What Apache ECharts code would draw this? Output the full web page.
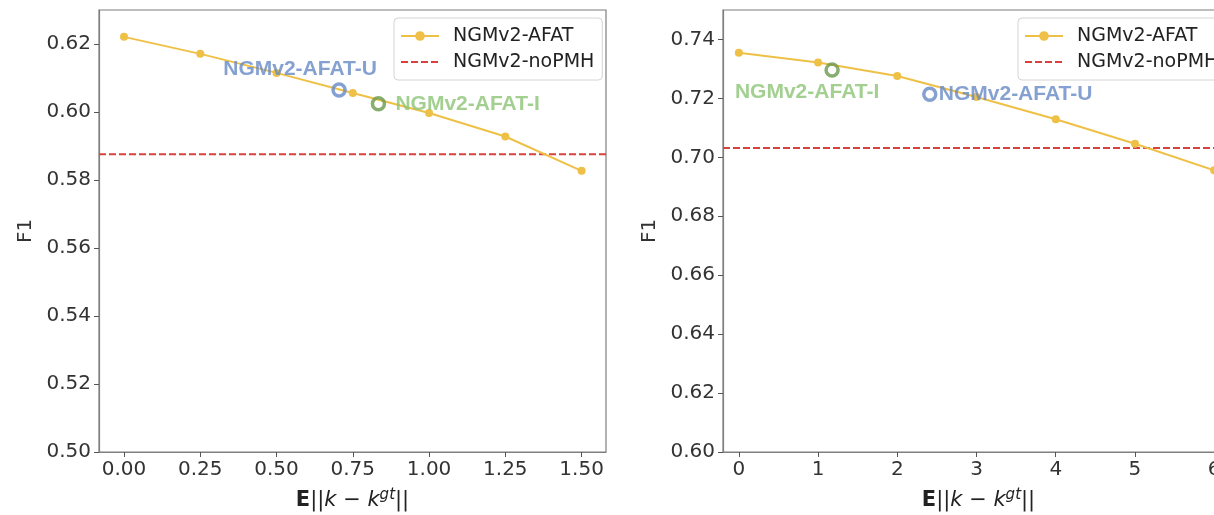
<!DOCTYPE html>
<html>
<head>
<meta charset="utf-8">
<script src="https://cdn.jsdelivr.net/npm/echarts@6/dist/echarts.min.js"></script>
<style>
  html, body { margin: 0; padding: 0; background: #fff; }
  #main { width: 1214px; height: 515px; }
</style>
</head>
<body>
<div id="main"></div>
<script>
// left panel
const leftX = [0, 0.25, 0.5, 0.75, 1.0, 1.25, 1.5];
const leftF1 = [0.6221, 0.6171, 0.6115, 0.6056, 0.5997, 0.5928, 0.5827];
const leftNoPMH = 0.5876;
const leftU = [0.705, 0.6065];
const leftI = [0.834, 0.6024];
const leftXTicks = [0, 0.25, 0.5, 0.75, 1.0, 1.25, 1.5];
const leftYTicks = [0.50, 0.52, 0.54, 0.56, 0.58, 0.60, 0.62];
const leftXRange = [-0.082, 1.58];

// right panel
const rightX = [0, 1, 2, 3, 4, 5, 6];
const rightF1 = [0.7355, 0.7322, 0.7276, 0.7205, 0.7129, 0.7046, 0.6956];
const rightNoPMH = 0.7032;
const rightU = [2.41, 0.7214];
const rightI = [1.177, 0.7296];
const rightXTicks = [0, 1, 2, 3, 4, 5, 6];
const rightYTicks = [0.60, 0.62, 0.64, 0.66, 0.68, 0.70, 0.72, 0.74];
const rightXRange = [-0.2, 6.25];

const YELLOW = '#efc046';
const RED = '#d9413f';
const BLUE_RING = '#6689c6';
const BLUE_TXT = '#6689c6';
const GREEN_RING = '#6a9a4b';
const GREEN_TXT = '#8cc476';
const FRAME = '#7f7f7f';
const FONT = 'DejaVu Sans';

let myChart = echarts.init(document.getElementById('main'));

function xAxisOf(gridIndex, range, ticks, fmt) {
  return {
    type: 'value', gridIndex: gridIndex, min: range[0], max: range[1],
    splitLine: { show: false },
    axisLine: { show: true, onZero: false, lineStyle: { color: FRAME, width: 1.2 } },
    axisTick: { show: true, length: 5, customValues: ticks, lineStyle: { color: '#555' } },
    axisLabel: {
      customValues: ticks, margin: 8, fontSize: 20, color: '#333', fontFamily: FONT,
      formatter: fmt
    },
    name: '{b|E}{n|||}{i|k}{n| \u2212 }{i|k}{s|gt}{n|||}',
    nameLocation: 'middle',
    nameGap: 36,
    nameTextStyle: {
      rich: {
        b: { fontSize: 21, fontWeight: 'bold', fontFamily: FONT, color: '#222' },
        n: { fontSize: 21, fontFamily: FONT, color: '#222' },
        i: { fontSize: 21, fontStyle: 'italic', fontFamily: FONT, color: '#222' },
        s: { fontSize: 15, fontStyle: 'italic', fontFamily: FONT, color: '#222', padding: [0, 0, 10, 0] }
      }
    }
  };
}

function yAxisOf(gridIndex, min, max, ticks, gap) {
  return {
    type: 'value', gridIndex: gridIndex, min: min, max: max,
    splitLine: { show: false },
    axisLine: { show: true, onZero: false, lineStyle: { color: FRAME, width: 1.2 } },
    axisTick: { show: true, length: 5, customValues: ticks, lineStyle: { color: '#555' } },
    axisLabel: {
      customValues: ticks, margin: 8, fontSize: 20, color: '#333', fontFamily: FONT,
      formatter: v => v.toFixed(2)
    },
    name: 'F1',
    nameLocation: 'middle',
    nameRotate: 90,
    nameGap: gap,
    nameTextStyle: { fontSize: 20, color: '#333', fontFamily: FONT }
  };
}

function legendOf(left) {
  return {
    left: left, top: 18,
    orient: 'vertical',
    itemWidth: 38, itemHeight: 12, itemGap: 6,
    padding: [8, 8, 8, 6],
    backgroundColor: 'rgba(255,255,255,0.85)',
    borderColor: '#d4d4d4', borderWidth: 1, borderRadius: 4,
    textStyle: { fontSize: 19, color: '#222', fontFamily: FONT, lineHeight: 20, padding: [0, 0, 0, 9] },
    data: [
      'NGMv2-AFAT',
      // dashed line only, no marker
      { name: 'NGMv2-noPMH', itemStyle: { opacity: 0 } }
    ]
  };
}

function ring(idx, pt, color, text, txtColor, align, offset) {
  return {
    type: 'scatter', xAxisIndex: idx, yAxisIndex: idx, z: 5,
    symbol: 'circle', symbolSize: 12,
    itemStyle: { color: 'rgba(255,255,255,0)', borderColor: color, borderWidth: 3.5 },
    label: {
      show: true, position: 'inside', formatter: text, align: align, verticalAlign: 'middle',
      offset: offset, fontSize: 21, fontWeight: 'bold', fontFamily: 'Liberation Sans', color: txtColor
    },
    data: [pt]
  };
}

function mainLine(idx, xs, ys) {
  return {
    name: 'NGMv2-AFAT', type: 'line', xAxisIndex: idx, yAxisIndex: idx, z: 3,
    symbol: 'circle', symbolSize: 8,
    lineStyle: { color: YELLOW, width: 2 },
    itemStyle: { color: YELLOW },
    data: xs.map((x, i) => [x, ys[i]])
  };
}

// horizontal reference line across the whole axis range
function baseLine(idx, range, v) {
  return {
    name: 'NGMv2-noPMH', type: 'line', xAxisIndex: idx, yAxisIndex: idx, z: 2,
    symbol: 'none', showSymbol: false,
    lineStyle: { color: RED, width: 2, type: [7, 3] },
    itemStyle: { color: RED },
    data: [[range[0], v], [range[1], v]]
  };
}

let option = {
  animation: false,
  backgroundColor: '#fff',
  grid: [
    { left: 99, top: 10, width: 507, height: 442, show: true, borderColor: FRAME, borderWidth: 1.2,
      outerBoundsMode: 'none', containLabel: false },
    { left: 723, top: 10, width: 511, height: 442, show: true, borderColor: FRAME, borderWidth: 1.2,
      outerBoundsMode: 'none', containLabel: false }
  ],
  legend: [legendOf(394), legendOf(1018)],
  xAxis: [
    xAxisOf(0, leftXRange, leftXTicks, v => v.toFixed(2)),
    xAxisOf(1, rightXRange, rightXTicks, v => String(Math.round(v)))
  ],
  yAxis: [
    yAxisOf(0, 0.50, 0.63, leftYTicks, 63),
    yAxisOf(1, 0.60, 0.75, rightYTicks, 63)
  ],
  series: [
    mainLine(0, leftX, leftF1),
    baseLine(0, leftXRange, leftNoPMH),
    ring(0, leftU, BLUE_RING, 'NGMv2-AFAT-U', BLUE_TXT, 'center', [-39, -21]),
    ring(0, leftI, GREEN_RING, 'NGMv2-AFAT-I', GREEN_TXT, 'left', [17, 0]),
    mainLine(1, rightX, rightF1),
    baseLine(1, rightXRange, rightNoPMH),
    ring(1, rightI, GREEN_RING, 'NGMv2-AFAT-I', GREEN_TXT, 'center', [-25, 22]),
    ring(1, rightU, BLUE_RING, 'NGMv2-AFAT-U', BLUE_TXT, 'left', [9, 0])
  ]
};
option && myChart.setOption(option);
</script>
</body>
</html>
